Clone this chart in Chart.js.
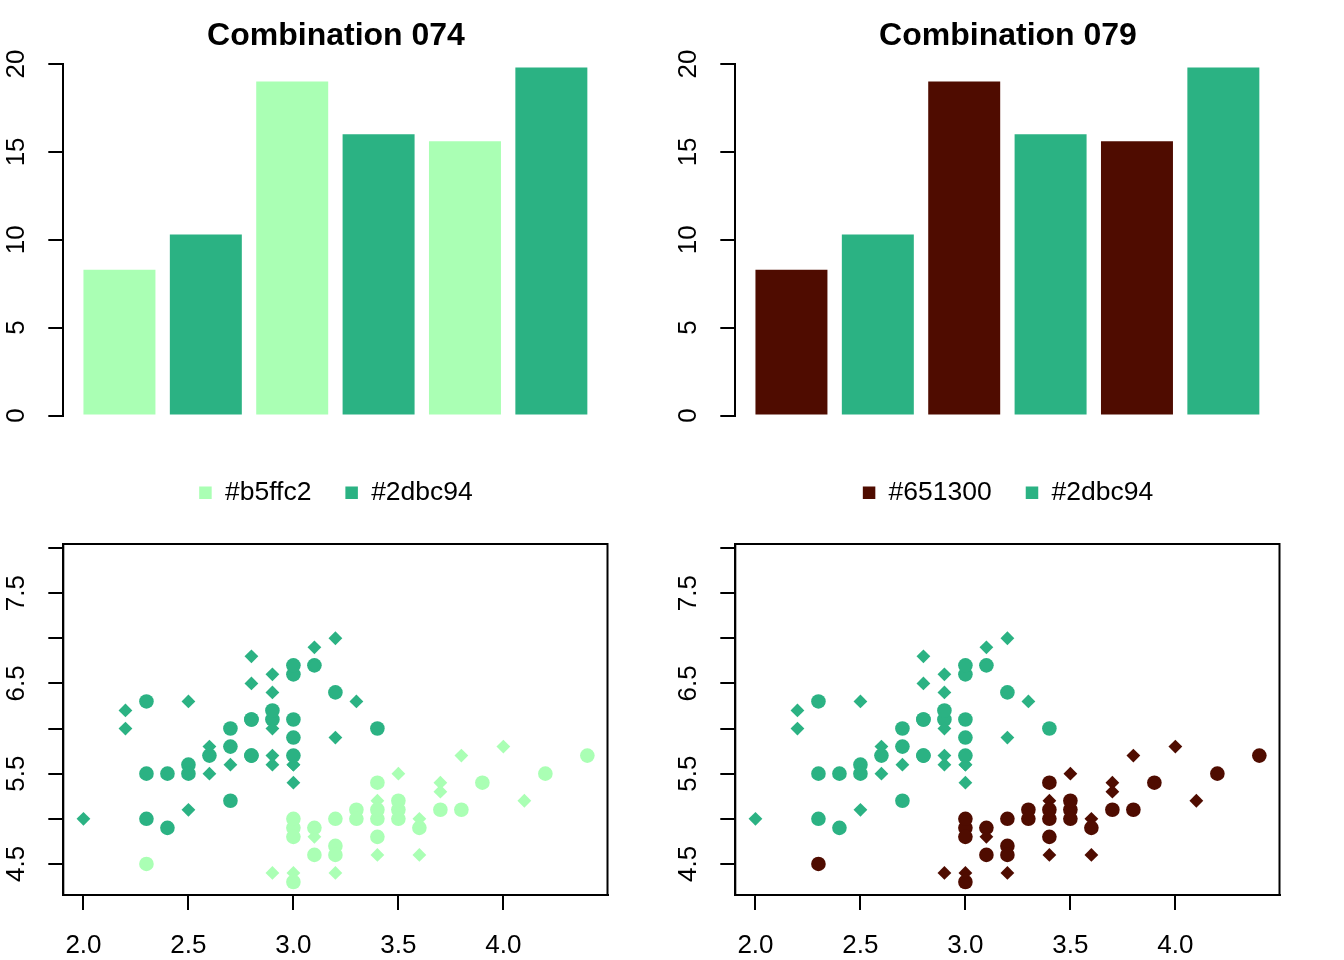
<!DOCTYPE html>
<html>
<head>
<meta charset="utf-8">
<script src="https://cdn.jsdelivr.net/npm/chart.js@4.4.1/dist/chart.umd.min.js"></script>
<style>
html, body { margin: 0; padding: 0; background: #ffffff; }
#wrap { position: relative; width: 1344px; height: 960px; overflow: hidden; background: #ffffff; }
canvas { position: absolute; }
</style>
</head>
<body>
<div id="wrap">
  <canvas id="bar074" width="672" height="520" style="left:0px;top:0px"></canvas>
  <canvas id="bar079" width="672" height="520" style="left:672px;top:0px"></canvas>
  <canvas id="sc074" width="672" height="480" style="left:0px;top:480px"></canvas>
  <canvas id="sc079" width="672" height="480" style="left:672px;top:480px"></canvas>
</div>
<script>
// ---------------- data ----------------
const titles = ['Combination 074', 'Combination 079'];

// bar plot: bar centres (width 1, space 0.2) and heights
const barCenters = [0.7, 1.9, 3.1, 4.3, 5.5, 6.7];
const barValues = [8.3, 10.3, 19.0, 16.0, 15.6, 19.8];
const barXRange = [0.2, 7.2];
const barYTicks = [0, 5, 10, 15, 20];

// legend texts and drawn colours
const legend074 = ['#b5ffc2', '#2dbc94'];
const legend079 = ['#651300', '#2dbc94'];
const colors074 = ['#aaffb4', '#2bb283'];
const colors079 = ['#4f0c00', '#2bb283'];

// iris: setosa and versicolor, Sepal.Width (x) and Sepal.Length (y)
const setosaWidth = [3.5,3.0,3.2,3.1,3.6,3.9,3.4,3.4,2.9,3.1,3.7,3.4,3.0,3.0,4.0,4.4,3.9,3.5,3.8,3.8,3.4,3.7,3.6,3.3,3.4,3.0,3.4,3.5,3.4,3.2,3.1,3.4,4.1,4.2,3.1,3.2,3.5,3.6,3.0,3.4,3.5,2.3,3.2,3.5,3.8,3.0,3.8,3.2,3.7,3.3];
const setosaLength = [5.1,4.9,4.7,4.6,5.0,5.4,4.6,5.0,4.4,4.9,5.4,4.8,4.8,4.3,5.8,5.7,5.4,5.1,5.7,5.1,5.4,5.1,4.6,5.1,4.8,5.0,5.0,5.2,5.2,4.7,4.8,5.4,5.2,5.5,4.9,5.0,5.5,4.9,4.4,5.1,5.0,4.5,4.4,5.0,5.1,4.8,5.1,4.6,5.3,5.0];
const versicolorWidth = [3.2,3.2,3.1,2.3,2.8,2.8,3.3,2.4,2.9,2.7,2.0,3.0,2.2,2.9,2.9,3.1,3.0,2.7,2.2,2.5,3.2,2.8,2.5,2.8,2.9,3.0,2.8,3.0,2.9,2.6,2.4,2.4,2.7,2.7,3.0,3.4,3.1,2.3,3.0,2.5,2.6,3.0,2.6,2.3,2.7,3.0,2.9,2.9,2.5,2.8];
const versicolorLength = [7.0,6.4,6.9,5.5,6.5,5.7,6.3,4.9,6.6,5.2,5.0,5.9,6.0,6.1,5.6,6.7,5.6,5.8,6.2,5.6,5.9,6.1,6.3,6.1,6.4,6.6,6.8,6.7,6.0,5.7,5.5,5.5,5.8,6.0,5.4,6.0,6.7,6.3,5.6,5.5,5.5,6.1,5.8,5.0,5.6,5.7,5.7,6.2,5.1,5.7];

const scatterXRange = [2.0, 4.4];
const scatterYRange = [4.3, 7.9];
const scatterXTicks = [2.0, 2.5, 3.0, 3.5, 4.0];
const scatterXLabels = ['2.0', '2.5', '3.0', '3.5', '4.0'];
const scatterYTicks = [4.5, 5.0, 5.5, 6.0, 6.5, 7.0, 7.5, 8.0];
const scatterYLabels = ['4.5', '', '5.5', '', '6.5', '', '7.5', ''];

// ---------------- style ----------------
Chart.defaults.font.family = "'Liberation Sans', Arial, Helvetica, sans-serif";
Chart.defaults.font.size = 26;
Chart.defaults.color = '#000000';
Chart.defaults.animation = false;

const AXIS_W = 63.3;     // left margin to plot region
const RIGHT_W = 64.5;    // right margin from plot region
const TICK_LEN = 15;
const LINE_W = 2;

function ext(r) { const d = (r[1] - r[0]) * 0.04; return [r[0] - d, r[1] + d]; }
function lookup(vals, labels, v) {
  for (let i = 0; i < vals.length; i++) if (Math.abs(vals[i] - v) < 1e-9) return labels[i];
  return '';
}

const boxPlugin = {
  id: 'rbox',
  afterDatasetsDraw(chart, args, opts) {
    if (!opts || !opts.on) return;
    const { ctx, chartArea: a } = chart;
    ctx.save();
    ctx.strokeStyle = '#000';
    ctx.lineWidth = LINE_W;
    ctx.strokeRect(a.left, a.top, a.right - a.left, a.bottom - a.top);
    ctx.restore();
  }
};

// an empty right-hand axis that only reserves the right margin
const spacerAxis = {
  type: 'linear', position: 'right', display: true,
  ticks: { display: false }, grid: { display: false }, border: { display: false },
  afterFit: s => { s.width = RIGHT_W; }
};

function makeBar(id, title, colors, legendTexts) {
  const xr = ext(barXRange);
  new Chart(document.getElementById(id), {
    type: 'bar',
    data: {
      datasets: [{
        data: barCenters.map((c, i) => ({ x: c, y: barValues[i] })),
        backgroundColor: barValues.map((v, i) => colors[i % 2]),
        borderWidth: 0,
        categoryPercentage: 1,
        barPercentage: 1 / 1.2,
        yAxisID: 'y'
      }]
    },
    options: {
      responsive: false,
      devicePixelRatio: 1,
      events: [],
      layout: { padding: { left: 0, right: 0, top: 0, bottom: 4 } },
      plugins: {
        title: {
          display: true, text: title, color: '#000',
          font: { size: 32, weight: 'bold' },
          padding: { top: 17, bottom: 8.6 }
        },
        legend: {
          display: true, position: 'bottom', onClick: null,
          labels: {
            boxWidth: 12.5, boxHeight: 12.5, padding: 34, color: '#000',
            font: { size: 26.5 },
            generateLabels: () => legendTexts.map((t, i) => ({
              text: t, fillStyle: colors[i], strokeStyle: colors[i], lineWidth: 0,
              hidden: false, datasetIndex: 0
            }))
          }
        },
        tooltip: { enabled: false },
        rbox: { on: false }
      },
      scales: {
        x: {
          type: 'linear', min: xr[0], max: xr[1], offset: false,
          ticks: { display: false },
          grid: { display: false, offset: false },
          border: { display: false },
          afterBuildTicks: s => { s.ticks = [{ value: 0 }]; },
          afterFit: s => { s.height = 30; }
        },
        y: {
          type: 'linear', position: 'left', min: barYTicks[0], max: barYTicks[barYTicks.length - 1],
          ticks: {
            stepSize: barYTicks[1] - barYTicks[0], autoSkip: false,
            minRotation: 90, maxRotation: 90, crossAlign: 'center', padding: 17.35,
            color: '#000', font: { size: 26 }
          },
          grid: { drawOnChartArea: false, drawTicks: true, tickLength: TICK_LEN, color: '#000', lineWidth: LINE_W },
          border: { display: true, color: '#000', width: LINE_W },
          afterFit: s => { s.width = AXIS_W; }
        },
        yRight: spacerAxis
      }
    },
    plugins: [boxPlugin]
  });
}

function pts(xs, ys) { return xs.map((x, i) => ({ x: x, y: ys[i] })); }

function makeScatter(id, colors) {
  const xr = ext(scatterXRange), yr = ext(scatterYRange);
  const shape = ctx => (ctx.dataIndex % 2 === 0 ? 'rectRot' : 'circle');
  const rad = ctx => (ctx.dataIndex % 2 === 0 ? 6.9 : 7.3);
  new Chart(document.getElementById(id), {
    type: 'scatter',
    data: {
      datasets: [
        { data: pts(setosaWidth, setosaLength), backgroundColor: colors[0], borderColor: colors[0],
          pointStyle: shape, pointRadius: rad, borderWidth: 0, order: 2 },
        { data: pts(versicolorWidth, versicolorLength), backgroundColor: colors[1], borderColor: colors[1],
          pointStyle: shape, pointRadius: rad, borderWidth: 0, order: 1 }
      ]
    },
    options: {
      responsive: false,
      devicePixelRatio: 1,
      events: [],
      layout: { padding: { left: 0, right: RIGHT_W, top: 64, bottom: 0 } },
      plugins: { legend: { display: false }, title: { display: false }, tooltip: { enabled: false }, rbox: { on: true } },
      scales: {
        x: {
          type: 'linear', min: xr[0], max: xr[1],
          ticks: {
            stepSize: scatterXTicks[1] - scatterXTicks[0], includeBounds: false, autoSkip: false,
            maxRotation: 0, padding: 19.9, color: '#000', font: { size: 26 },
            callback: v => lookup(scatterXTicks, scatterXLabels, v)
          },
          grid: { drawOnChartArea: false, drawTicks: true, tickLength: TICK_LEN, color: '#000', lineWidth: LINE_W },
          border: { display: true, color: '#000', width: LINE_W },
          afterFit: s => { s.height = 65; }
        },
        y: {
          type: 'linear', min: yr[0], max: yr[1],
          ticks: {
            stepSize: scatterYTicks[1] - scatterYTicks[0], includeBounds: false, autoSkip: false,
            minRotation: 90, maxRotation: 90, crossAlign: 'center', padding: 13.7,
            color: '#000', font: { size: 26 },
            callback: v => lookup(scatterYTicks, scatterYLabels, v)
          },
          grid: { drawOnChartArea: false, drawTicks: true, tickLength: TICK_LEN, color: '#000', lineWidth: LINE_W },
          border: { display: true, color: '#000', width: LINE_W },
          afterFit: s => { s.width = AXIS_W; }
        }
      }
    },
    plugins: [boxPlugin]
  });
}

makeBar('bar074', titles[0], colors074, legend074);
makeBar('bar079', titles[1], colors079, legend079);
makeScatter('sc074', colors074);
makeScatter('sc079', colors079);
</script>
</body>
</html>
